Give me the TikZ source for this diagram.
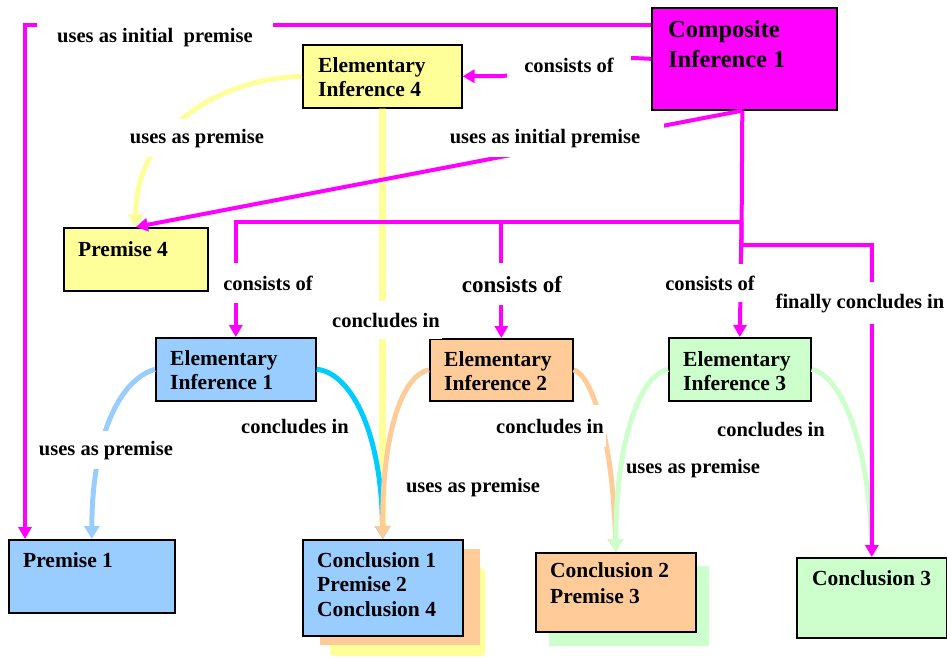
\documentclass[tikz,border=0pt]{standalone}
\usepackage{fontspec}
\setmainfont{Liberation Serif}
\usetikzlibrary{arrows.meta}
\definecolor{mag}{RGB}{255,0,255}
\definecolor{pyellow}{RGB}{255,255,153}
\definecolor{pblue}{RGB}{153,204,255}
\definecolor{porange}{RGB}{255,204,153}
\definecolor{pgreen}{RGB}{204,255,204}
\definecolor{pcyan}{RGB}{0,204,255}

\begin{document}
\begin{tikzpicture}[x=1pt,y=-1pt,
  box/.style={draw=black, line width=1.6pt, inner sep=0pt, anchor=north west},
  boxtext/.style={anchor=base west, inner sep=0pt, font=\bfseries\fontsize{21.5}{24.5}\selectfont},
  lbl/.style={fill=white, inner xsep=2pt, inner ysep=2pt, anchor=base, font=\bfseries\fontsize{20.5}{24}\selectfont},
  magline/.style={draw=mag, line width=4pt},
  magarrow/.style={magline, -{Triangle[width=13pt,length=12pt]}},
  flow/.style={line width=5pt, -{Triangle[width=15pt,length=13pt]}},
]
\useasboundingbox (0,0) rectangle (947,657);

% stacked shadows behind the shared conclusion boxes
\fill[pyellow, rounded corners=4pt] (330,568) rectangle (485,656);
\fill[porange] (320,549) rectangle (480,645);
\fill[pgreen] (549,566) rectangle (709,646);

% boxes
\node[box, fill=mag, minimum width=185pt, minimum height=102pt] (comp) at (651,7) {};
\node[box, fill=pyellow, minimum width=159pt, minimum height=63pt] (ei4) at (302,44) {};
\node[box, fill=pyellow, minimum width=144pt, minimum height=63pt] (p4) at (63,227) {};
\node[box, fill=pblue, minimum width=160pt, minimum height=63pt] (ei1) at (155,337) {};
\node[box, fill=porange, minimum width=143pt, minimum height=62pt] (ei2) at (429,338) {};
\node[box, fill=pgreen, minimum width=142pt, minimum height=63pt] (ei3) at (668,337) {};
\node[box, fill=pblue, minimum width=166pt, minimum height=73pt] (p1) at (8,539) {};
\node[box, fill=pblue, minimum width=160pt, minimum height=96pt] (c1) at (302,539) {};
\node[box, fill=porange, minimum width=160pt, minimum height=79pt] (c2) at (535,552) {};
\node[box, fill=pgreen, minimum width=150pt, minimum height=80pt] (c3) at (796,557) {};

% box texts
\node[boxtext, font=\bfseries\fontsize{24.5}{30}\selectfont] (compt) at ([shift={(17pt,-30pt)}]comp.north west) {\begin{tabular}[t]{@{}l@{}}Composite\\Inference 1\end{tabular}};
\node[boxtext] (ei4t) at ([shift={(16pt,-28pt)}]ei4.north west) {\begin{tabular}[t]{@{}l@{}}Elementary\\Inference 4\end{tabular}};
\node[boxtext] (p4t) at ([shift={(15pt,-29pt)}]p4.north west) {Premise 4};
\node[boxtext] (ei1t) at ([shift={(15pt,-28pt)}]ei1.north west) {\begin{tabular}[t]{@{}l@{}}Elementary\\Inference 1\end{tabular}};
\node[boxtext] (ei2t) at ([shift={(15pt,-28pt)}]ei2.north west) {\begin{tabular}[t]{@{}l@{}}Elementary\\Inference 2\end{tabular}};
\node[boxtext] (ei3t) at ([shift={(15pt,-29pt)}]ei3.north west) {\begin{tabular}[t]{@{}l@{}}Elementary\\Inference 3\end{tabular}};
\node[boxtext] (p1t) at ([shift={(15pt,-28pt)}]p1.north west) {Premise 1};
\node[boxtext] (c1t) at ([shift={(15pt,-28pt)}]c1.north west) {\begin{tabular}[t]{@{}l@{}}Conclusion 1\\Premise 2\\Conclusion 4\end{tabular}};
\node[boxtext, font=\bfseries\fontsize{21.5}{26}\selectfont] (c2t) at ([shift={(15pt,-25pt)}]c2.north west) {\begin{tabular}[t]{@{}l@{}}Conclusion 2\\Premise 3\end{tabular}};
\node[boxtext] (c3t) at ([shift={(16pt,-28pt)}]c3.north west) {Conclusion 3};

% premise / conclusion flows of the elementary inferences
\draw[flow, draw=pyellow] (ei4.west) .. controls (220,78) and (135,130) .. (p4.north);
\draw[flow, draw=pyellow, line width=7pt] (ei4.south) -- (c1.north);
\draw[flow, draw=pblue] (ei1.west) .. controls (118,380) and (92,440) .. (p1.north);
\draw[flow, draw=pcyan] (ei1.east) .. controls (348,372) and (381,425) .. (c1.north);
\draw[flow, draw=porange] (ei2.west) .. controls (403,375) and (382,430) .. (c1.north);
\draw[flow, draw=porange] (ei2.east) .. controls (592,375) and (613,440) .. (c2.north);
\draw[flow, draw=pgreen] (ei3.west) .. controls (640,375) and (616,440) .. (c2.north);
\draw[flow, draw=pgreen] (ei3.east) .. controls (840,375) and (869,440) .. (c3.north);

% composite inference structure
\coordinate (tl) at (25,25);
\coordinate (k1) at (633,58);
\coordinate (k2) at (503,76);
\coordinate (cs) at ([xshift=-2pt]comp.south);
\coordinate (j1) at (741.5,222);
\coordinate (j2) at (741.5,245);
\draw[magarrow] ([yshift=-18pt]comp.north west) -- (tl) -- (tl |- p1.north);
\draw[magarrow] (comp.west) -- (k1) -- (k2) -- (ei4.east);
\draw[magarrow] (cs) -- (p4.north);
\draw[magarrow] (cs) -- (j2) -- (j2 -| c3.north) -- (c3.north);
\draw[magarrow] (j1) -- (j1 -| ei1.north) -- (ei1.north);
\draw[magarrow] (j1 -| ei2.north) -- (ei2.north);
\draw[magarrow] (j1) -- (ei3.north);

% connector labels
\node[lbl, inner xsep=20pt, inner ysep=8pt] (l1) at (155,42) {uses as initial\ \ premise};
\node[lbl, inner xsep=17pt, inner ysep=8pt] (l2) at (569,72) {consists of};
\node[lbl, inner xsep=24pt, inner ysep=10pt] (l3) at (545,143) {uses as initial premise};
\node[lbl, inner ysep=10pt] (l4) at (197,143) {uses as premise};
\node[lbl, inner ysep=13pt] (l5) at (268,290) {consists of};
\node[lbl, inner ysep=13pt, font=\bfseries\fontsize{23}{26}\selectfont] (l6) at (512,292) {consists of};
\node[lbl, inner ysep=12pt] (l7) at (710,290) {consists of};
\node[lbl, inner ysep=12pt] (l8) at (860,308) {finally concludes in};
\node[lbl, inner ysep=12pt] (l9) at (386,327) {concludes in};
\node[lbl] (l10) at (295,433) {concludes in};
\node[lbl, inner ysep=10pt] (l11) at (106,455) {uses as premise};
\node[lbl, inner ysep=14pt] (l12) at (550,433) {concludes in};
\node[lbl] (l13) at (473,492) {uses as premise};
\node[lbl, fill=none] (l14) at (693,473) {uses as premise};
\node[lbl] (l15) at (771,436) {concludes in};
\end{tikzpicture}
\end{document}
